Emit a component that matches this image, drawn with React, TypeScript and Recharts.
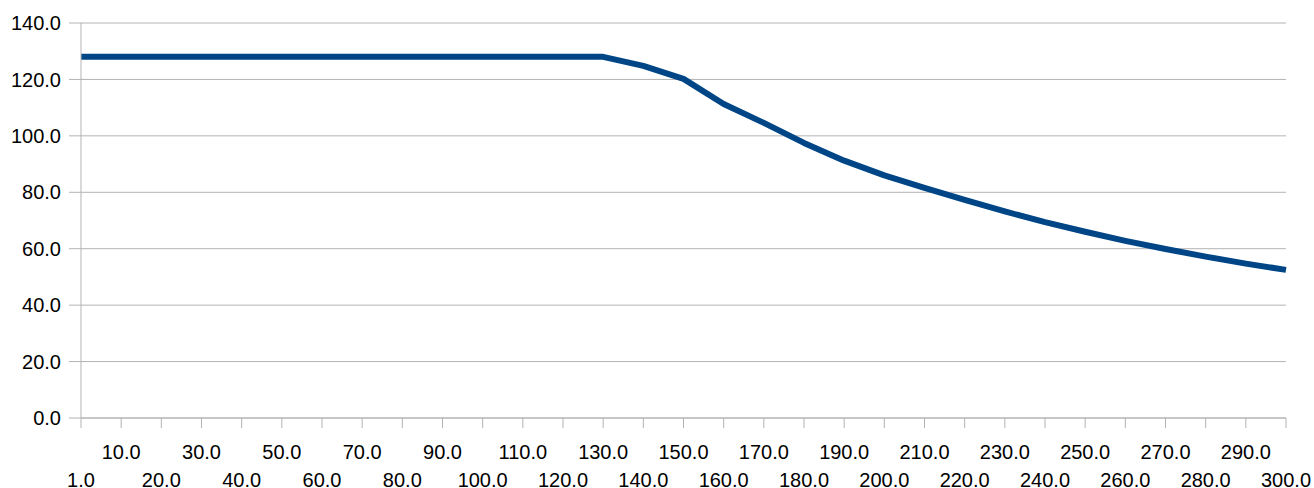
import React from "react";
import {CartesianGrid, Line, LineChart, XAxis, YAxis} from "recharts";

// categories on the x axis, as printed
const categories = [
    "1.0", "10.0", "20.0", "30.0", "40.0", "50.0", "60.0", "70.0", "80.0", "90.0",
    "100.0", "110.0", "120.0", "130.0", "140.0", "150.0", "160.0", "170.0", "180.0", "190.0",
    "200.0", "210.0", "220.0", "230.0", "240.0", "250.0", "260.0", "270.0", "280.0", "290.0",
    "300.0"
];

// series values
const values = [
    128.0, 128.0, 128.0, 128.0, 128.0, 128.0, 128.0, 128.0, 128.0, 128.0,
    128.0, 128.0, 128.0, 128.0, 124.8, 120.2, 111.3, 104.6, 97.5, 91.2,
    86.0, 81.6, 77.3, 73.2, 69.4, 66.0, 62.8, 59.9, 57.2, 54.7,
    52.5
];

const majorTicks = [0, 20, 40, 60, 80, 100, 120, 140];
const minorTicks = [10, 30, 50, 70, 90, 110, 130];

const data = categories.map((c, i) => ({name: c, value: values[i]}));

const FONT = "'Liberation Sans', Arial, sans-serif";
const GREY = "#b3b3b3";

const XTick = (props: any) => {
    const {x, y, payload, index} = props;
    // labels alternate between two rows
    const lower = index % 2 === 0;
    return (
        <text x={x} y={y + (lower ? 57 : 29)} textAnchor="middle" fontSize={20} fill="#000" fontFamily={FONT}>
            {payload.value}
        </text>
    );
};

const NoTick = () => <g/>;

export default function App() {
    return (
        <div style={{position: "absolute", left: 0, top: 0, background: "#fff"}}>
            <LineChart width={1314} height={488} data={data} margin={{top: 23, right: 28, bottom: 0, left: 0}}>
                <CartesianGrid yAxisId="main" vertical={false} stroke={GREY} strokeWidth={1}/>
                <XAxis
                    dataKey="name"
                    interval={0}
                    height={70}
                    tickSize={10}
                    tickMargin={2}
                    tick={<XTick/>}
                    stroke={GREY}
                    axisLine={{stroke: GREY}}
                    tickLine={{stroke: GREY}}
                />
                <YAxis
                    yAxisId="minor"
                    width={0}
                    domain={[0, 140]}
                    ticks={minorTicks}
                    tickSize={10}
                    axisLine={false}
                    tickLine={{stroke: GREY}}
                    tick={NoTick}
                />
                <YAxis
                    yAxisId="main"
                    width={81}
                    domain={[0, 140]}
                    ticks={majorTicks}
                    interval={0}
                    tickSize={12}
                    tickMargin={8}
                    tickFormatter={(v: number) => v.toFixed(1)}
                    tick={{fontSize: 20, fill: "#000", fontFamily: FONT}}
                    axisLine={{stroke: GREY}}
                    tickLine={{stroke: GREY}}
                />
                <YAxis
                    yAxisId="right"
                    orientation="right"
                    width={0}
                    domain={[0, 140]}
                    tick={false}
                    tickLine={false}
                    axisLine={{stroke: GREY}}
                />
                <Line
                    yAxisId="main"
                    type="linear"
                    dataKey="value"
                    stroke="#004586"
                    strokeWidth={6}
                    strokeLinejoin="round"
                    dot={false}
                    activeDot={false}
                    isAnimationActive={false}
                />
            </LineChart>
        </div>
    );
}
